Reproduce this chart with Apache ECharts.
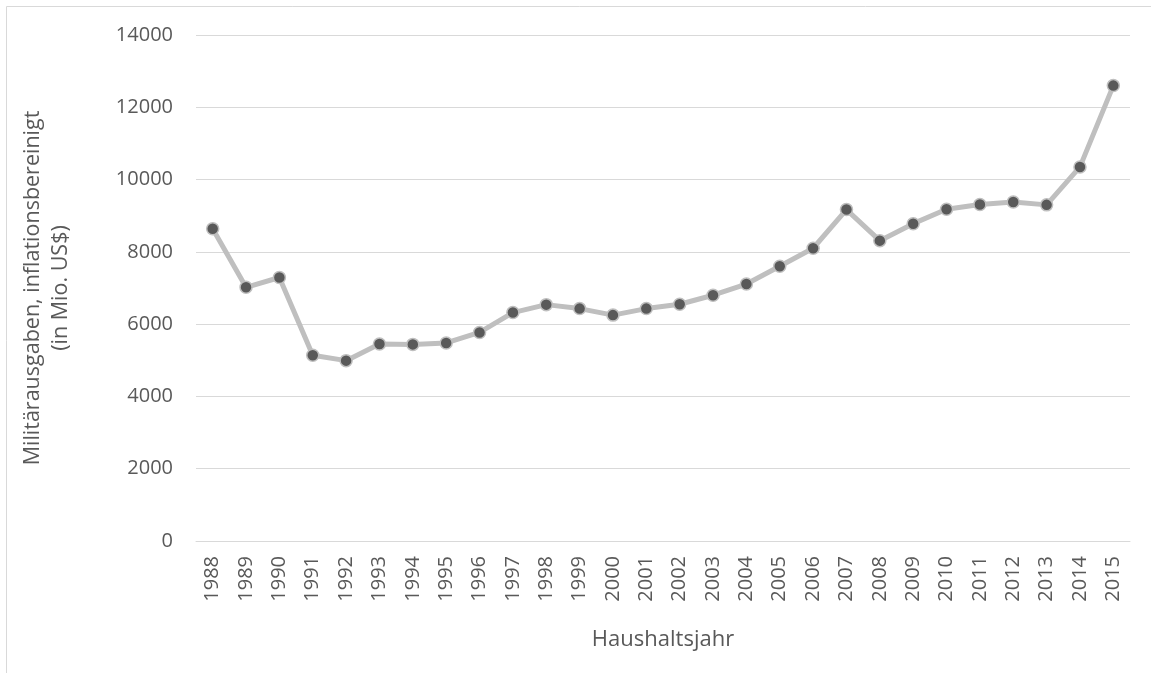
<!DOCTYPE html>
<html>
<head>
<meta charset="utf-8">
<script src="https://cdn.jsdelivr.net/npm/echarts@6/dist/echarts.min.js"></script>
<style>
  html, body { margin: 0; padding: 0; background: #fff; }
  #chart { width: 1151px; height: 673px; }
</style>
</head>
<body>
<div id="chart"></div>
<script>
// Haushaltsjahre
const years = ['1988', '1989', '1990', '1991', '1992', '1993', '1994', '1995', '1996', '1997',
    '1998', '1999', '2000', '2001', '2002', '2003', '2004', '2005', '2006', '2007',
    '2008', '2009', '2010', '2011', '2012', '2013', '2014', '2015'];
// Militärausgaben (Mio. US$)
const spending = [8640, 7020, 7290, 5140, 4990, 5450, 5440, 5480, 5770, 6320,
    6540, 6430, 6250, 6430, 6550, 6800, 7110, 7600, 8100, 9170,
    8310, 8780, 9180, 9310, 9380, 9300, 10350, 12600];
const yTicks = { min: 0, max: 14000, step: 2000 };

const textColor = '#595959';
const font = '"Open Sans", "Noto Sans", sans-serif';

let myChart = echarts.init(document.getElementById('chart'));
myChart.setOption({
    animation: false,
    textStyle: { fontFamily: font },
    graphic: [
        {
            // Rahmen (nur links/oben sichtbar)
            type: 'rect',
            shape: { x: 6.5, y: 6.5, width: 1200, height: 700 },
            style: { fill: 'none', stroke: '#d9d9d9', lineWidth: 1 },
            silent: true
        }
    ],
    grid: {
        left: 196,
        right: 21,
        top: 35,
        bottom: 132
    },
    xAxis: {
        type: 'category',
        data: years,
        boundaryGap: true,
        name: 'Haushaltsjahr',
        nameLocation: 'middle',
        nameGap: 88,
        nameTextStyle: { color: textColor, fontSize: 22, fontFamily: font },
        axisLine: { show: true, lineStyle: { color: '#d9d9d9', width: 1 } },
        axisTick: { show: false },
        axisLabel: {
            rotate: 90,
            margin: 15,
            color: textColor,
            fontSize: 20,
            fontFamily: font,
            interval: 0
        }
    },
    yAxis: {
        type: 'value',
        min: yTicks.min,
        max: yTicks.max,
        interval: yTicks.step,
        name: 'Militärausgaben, inflationsbereinigt\n(in Mio. US$)',
        nameLocation: 'middle',
        nameRotate: 90,
        nameGap: 121,
        nameTextStyle: { color: textColor, fontSize: 21.5, fontFamily: font, lineHeight: 28 },
        axisLine: { show: false },
        axisTick: { show: false },
        axisLabel: {
            color: textColor,
            fontSize: 20,
            fontFamily: font,
            margin: 23,
            formatter: (v) => String(v)
        },
        splitLine: { lineStyle: { color: '#d9d9d9', width: 1 } }
    },
    series: [
        {
            type: 'line',
            data: spending,
            symbol: 'circle',
            symbolSize: 12,
            lineStyle: { color: '#bfbfbf', width: 5 },
            itemStyle: { color: '#595959', borderColor: '#bfbfbf', borderWidth: 1.5 }
        }
    ]
});
</script>
</body>
</html>
